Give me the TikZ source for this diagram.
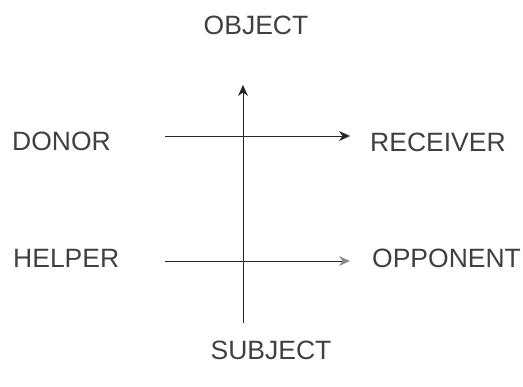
\documentclass[tikz,border=0pt]{standalone}
\usepackage{fontspec}
\setmainfont{Liberation Sans}
\usetikzlibrary{arrows.meta}
\tikzset{
  role/.style={font=\fontsize{26.5}{30}\selectfont,inner sep=0pt,text=black!75},
  axis/.style={line width=0.9pt,draw=black!85},
  tip/.style={-{Stealth[length=11pt,width=10pt]}}
}
\begin{document}
\begin{tikzpicture}[x=1pt,y=-1pt]
\useasboundingbox (0,0) rectangle (523,387);
\node[role,anchor=base] (object) at (256,35) {OBJECT};
\node[role,anchor=base] (subject) at (271,360) {SUBJECT};
\node[role,anchor=base west] (donor) at (12,151) {DONOR};
\node[role,anchor=base west] (receiver) at (370,152) {RECEIVER};
\node[role,anchor=base west] (helper) at (13,268) {HELPER};
\node[role,anchor=base west] (opponent) at (372,268) {OPPONENT};
\coordinate (vbot) at (243,323);
\coordinate (vtop) at (243,85);
\coordinate (dstart) at (165,136);
\coordinate (dend) at (350,136);
\coordinate (hstart) at (165,261);
\coordinate (hend) at (350,261);
\draw[axis,tip] (vbot)--(vtop);
\draw[axis,tip] (dstart)--(dend);
\draw[axis,-{Stealth[length=11pt,width=10pt,color=black!45]}] (hstart)--(hend);
\end{tikzpicture}
\end{document}
